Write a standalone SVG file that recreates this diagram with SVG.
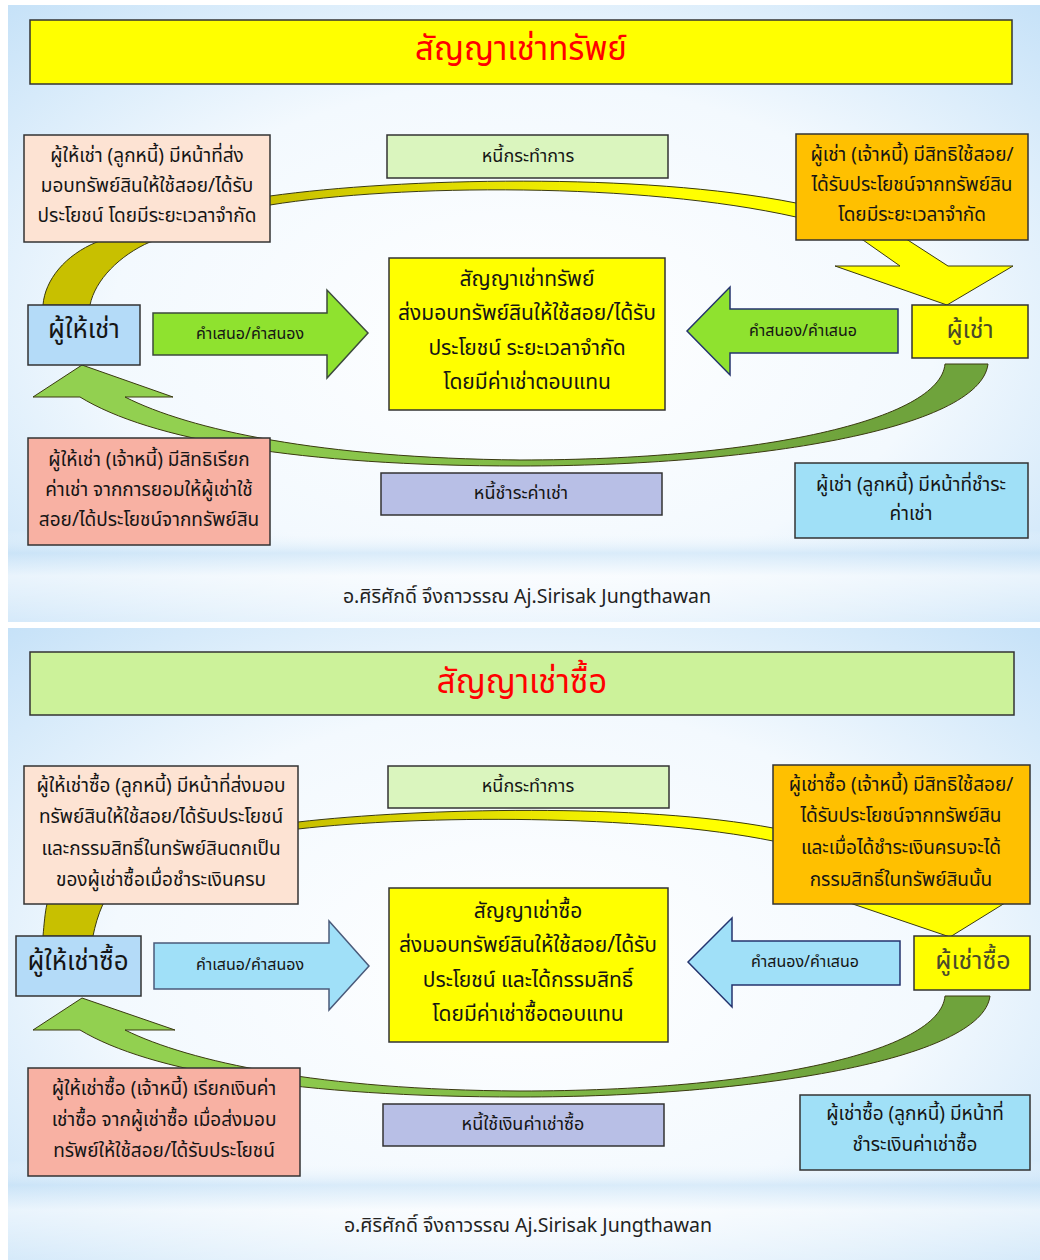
<svg xmlns="http://www.w3.org/2000/svg" width="1040" height="1260" viewBox="0 0 1040 1260">
<defs>
<radialGradient id="bg" cx="0.5" cy="0.5" r="0.8" fx="0.5" fy="0.55">
<stop offset="0" stop-color="#ffffff"/>
<stop offset="0.5" stop-color="#f3f9fe"/>
<stop offset="1" stop-color="#b9dbf6"/>
</radialGradient>
<linearGradient id="band" x1="0" y1="0" x2="0" y2="1">
<stop offset="0" stop-color="#ffffff" stop-opacity="0"/>
<stop offset="0.25" stop-color="#c4e0f6" stop-opacity="0.55"/>
<stop offset="0.5" stop-color="#ffffff" stop-opacity="0.55"/>
<stop offset="1" stop-color="#ffffff" stop-opacity="0.25"/>
</linearGradient>
<linearGradient id="topBand1" gradientUnits="userSpaceOnUse" x1="270" y1="0" x2="680" y2="0">
<stop offset="0" stop-color="#c8c000"/>
<stop offset="1" stop-color="#ffff00"/>
</linearGradient>
<linearGradient id="topBand2" gradientUnits="userSpaceOnUse" x1="298" y1="0" x2="680" y2="0">
<stop offset="0" stop-color="#c8c000"/>
<stop offset="1" stop-color="#ffff00"/>
</linearGradient>
<linearGradient id="green1" gradientUnits="userSpaceOnUse" x1="200" y1="0" x2="850" y2="0">
<stop offset="0" stop-color="#92d050"/>
<stop offset="1" stop-color="#6fa33c"/>
</linearGradient>
<style>
.box{stroke:#333;stroke-width:1.5}
.t{font-family:"Noto Sans Thai","Noto Sans","DejaVu Sans",sans-serif;fill:#151515;text-anchor:middle;dominant-baseline:central}
.s16{font-size:19px}
.s14{font-size:16px}
.lab{font-size:18px}
.s19{font-size:21px}
.s22{font-size:26px}
.title{font-size:33px;fill:#ff0000}
.band{stroke:#3a3a10;stroke-width:1}
.foot{font-size:19.5px;fill:#222}
</style>
</defs>

<g id="background">
<rect x="0" y="0" width="1040" height="1260" fill="#ffffff"/>
<rect x="8" y="5" width="1032" height="617" fill="url(#bg)"/>
<rect x="8" y="530" width="1032" height="92" fill="url(#band)"/>
<rect x="8" y="628" width="1032" height="632" fill="url(#bg)"/>
<rect x="8" y="1160" width="1032" height="100" fill="url(#band)"/>
</g>

<g id="connectors">
<!-- slide 1 top curved arrow -->
<path class="band" fill="url(#topBand1)" d="M43,305 C45,280 65,255 97,242 L150,215 L270,196 C400,178 640,172 796,203 L900,235 L948,266 L1013,266 L947,305 L835,266 L900,266 L863,240 L796,217 C640,182 400,184 270,205 L200,230 L150,242 C120,255 95,280 90,305 Z"/>
<!-- slide 1 bottom curved arrow -->
<path class="band" fill="url(#green1)" d="M988,364 C980,430 750,466 520,466 C300,466 150,440 80,397 L33,397 L82,365 L173,397 L125,397 C190,430 320,458 520,460 C760,460 940,420 945,364 Z"/>
<!-- slide 1 straight arrows -->
<polygon points="153,313 327,313 327,290 368,333 327,378 327,355 153,355" fill="#8fe22f" stroke="#3c4a3c" stroke-width="1.5"/>
<polygon points="687,331 730,287 730,309 898,309 898,353 730,353 730,375" fill="#8fe22f" stroke="#24336e" stroke-width="1.5"/>

<!-- slide 2 top curved arrow -->
<path class="band" fill="url(#topBand2)" d="M43,936 C44,925 45,912 47,904 L100,860 L298,822 C420,808 640,803 773,828 L900,880 L1013,898 L950,937 L835,898 L870,880 L773,841 C640,814 420,815 298,829 L150,880 L103,904 C98,915 95,926 93,936 Z"/>
<!-- slide 2 bottom curved arrow -->
<path class="band" fill="url(#green1)" d="M990,996 C982,1060 750,1097 520,1097 C300,1097 150,1072 80,1030 L33,1030 L82,998 L175,1030 L125,1030 C190,1062 320,1090 520,1091 C760,1091 940,1052 945,996 Z"/>
<!-- slide 2 straight arrows -->
<polygon points="154,943 329,943 329,921 369,966 329,1010 329,989 154,989" fill="#a0e0f8" stroke="#4a5a7a" stroke-width="1.5"/>
<polygon points="688,962 732,918 732,941 900,941 900,985 732,985 732,1007" fill="#a0e0f8" stroke="#24336e" stroke-width="1.5"/>
</g>

<!-- ===== Slide 1 ===== -->
<g id="title1">
<rect class="box" x="30" y="20" width="982" height="64" fill="#ffff00"/>
<text class="t title" x="521" y="50">สัญญาเช่าทรัพย์</text>
</g>
<g id="lessor-duty1">
<rect class="box" x="24" y="135" width="246" height="107" fill="#fde3d3"/>
<text class="t s16" x="147" y="156">ผู้ให้เช่า (ลูกหนี้) มีหน้าที่ส่ง</text>
<text class="t s16" x="147" y="186">มอบทรัพย์สินให้ใช้สอย/ได้รับ</text>
<text class="t s16" x="147" y="216">ประโยชน์ โดยมีระยะเวลาจำกัด</text>
</g>
<g id="obligation-act1">
<rect class="box" x="387" y="135" width="281" height="43" fill="#daf5be"/>
<text class="t lab" x="528" y="156">หนี้กระทำการ</text>
</g>
<g id="lessee-right1">
<rect class="box" x="796" y="134" width="232" height="106" fill="#ffc000"/>
<text class="t s16" x="912" y="155">ผู้เช่า (เจ้าหนี้) มีสิทธิใช้สอย/</text>
<text class="t s16" x="912" y="185">ได้รับประโยชน์จากทรัพย์สิน</text>
<text class="t s16" x="912" y="215">โดยมีระยะเวลาจำกัด</text>
</g>
<g id="contract1">
<rect class="box" x="389" y="258" width="276" height="152" fill="#ffff00"/>
<text class="t s19" x="527" y="279">สัญญาเช่าทรัพย์</text>
<text class="t s19" x="527" y="313">ส่งมอบทรัพย์สินให้ใช้สอย/ได้รับ</text>
<text class="t s19" x="527" y="348">ประโยชน์ ระยะเวลาจำกัด</text>
<text class="t s19" x="527" y="382">โดยมีค่าเช่าตอบแทน</text>
</g>
<g id="lessor1">
<rect class="box" x="28" y="305" width="112" height="60" fill="#b4dbf8"/>
<text class="t s22" x="84" y="330">ผู้ให้เช่า</text>
</g>
<g id="offer1">
<text class="t s14" x="250" y="334">คำเสนอ/คำสนอง</text>
</g>
<g id="accept1">
<text class="t s14" x="803" y="331">คำสนอง/คำเสนอ</text>
</g>
<g id="lessee1">
<rect class="box" x="912" y="305" width="116" height="53" fill="#ffff00"/>
<text class="t" x="970" y="330" style="fill:#4a4a2a;font-size:25px">ผู้เช่า</text>
</g>
<g id="lessor-right1">
<rect class="box" x="28" y="438" width="242" height="107" fill="#f8b1a3"/>
<text class="t s16" x="149" y="460">ผู้ให้เช่า (เจ้าหนี้) มีสิทธิเรียก</text>
<text class="t s16" x="149" y="490">ค่าเช่า จากการยอมให้ผู้เช่าใช้</text>
<text class="t s16" x="149" y="520">สอย/ได้ประโยชน์จากทรัพย์สิน</text>
</g>
<g id="obligation-pay1">
<rect class="box" x="381" y="473" width="281" height="42" fill="#b8bfe6"/>
<text class="t lab" x="521" y="493">หนี้ชำระค่าเช่า</text>
</g>
<g id="lessee-duty1">
<rect class="box" x="795" y="463" width="233" height="75" fill="#a0e0f7"/>
<text class="t s16" x="911" y="485">ผู้เช่า (ลูกหนี้) มีหน้าที่ชำระ</text>
<text class="t s16" x="911" y="514">ค่าเช่า</text>
</g>
<g id="footer1">
<text class="t foot" x="527" y="597">อ.ศิริศักดิ์ จึงถาวรรณ Aj.Sirisak Jungthawan</text>
</g>

<!-- ===== Slide 2 ===== -->
<g id="title2">
<rect class="box" x="30" y="652" width="984" height="63" fill="#ccf29a"/>
<text class="t title" x="522" y="683">สัญญาเช่าซื้อ</text>
</g>
<g id="lessor-duty2">
<rect class="box" x="24" y="766" width="274" height="138" fill="#fde3d3"/>
<text class="t s16" x="161" y="786">ผู้ให้เช่าซื้อ (ลูกหนี้) มีหน้าที่ส่งมอบ</text>
<text class="t s16" x="161" y="817">ทรัพย์สินให้ใช้สอย/ได้รับประโยชน์</text>
<text class="t s16" x="161" y="849">และกรรมสิทธิ์ในทรัพย์สินตกเป็น</text>
<text class="t s16" x="161" y="880">ของผู้เช่าซื้อเมื่อชำระเงินครบ</text>
</g>
<g id="obligation-act2">
<rect class="box" x="388" y="766" width="281" height="42" fill="#daf5be"/>
<text class="t lab" x="528" y="786">หนี้กระทำการ</text>
</g>
<g id="lessee-right2">
<rect class="box" x="773" y="765" width="257" height="139" fill="#ffc000"/>
<text class="t s16" x="901" y="785">ผู้เช่าซื้อ (เจ้าหนี้) มีสิทธิใช้สอย/</text>
<text class="t s16" x="901" y="816">ได้รับประโยชน์จากทรัพย์สิน</text>
<text class="t s16" x="901" y="848">และเมื่อได้ชำระเงินครบจะได้</text>
<text class="t s16" x="901" y="880">กรรมสิทธิ์ในทรัพย์สินนั้น</text>
</g>
<g id="contract2">
<rect class="box" x="389" y="888" width="279" height="154" fill="#ffff00"/>
<text class="t s19" x="528" y="911">สัญญาเช่าซื้อ</text>
<text class="t s19" x="528" y="945">ส่งมอบทรัพย์สินให้ใช้สอย/ได้รับ</text>
<text class="t s19" x="528" y="980">ประโยชน์ และได้กรรมสิทธิ์</text>
<text class="t s19" x="528" y="1014">โดยมีค่าเช่าซื้อตอบแทน</text>
</g>
<g id="lessor2">
<rect class="box" x="16" y="936" width="125" height="60" fill="#b4dbf8"/>
<text class="t s22" x="78" y="962">ผู้ให้เช่าซื้อ</text>
</g>
<g id="offer2">
<text class="t s14" x="250" y="965">คำเสนอ/คำสนอง</text>
</g>
<g id="accept2">
<text class="t s14" x="805" y="962">คำสนอง/คำเสนอ</text>
</g>
<g id="lessee2">
<rect class="box" x="914" y="936" width="116" height="54" fill="#ffff00"/>
<text class="t" x="973" y="961" style="fill:#4a4a2a;font-size:25px">ผู้เช่าซื้อ</text>
</g>
<g id="lessor-right2">
<rect class="box" x="28" y="1068" width="272" height="108" fill="#f8b1a3"/>
<text class="t s16" x="164" y="1089">ผู้ให้เช่าซื้อ (เจ้าหนี้) เรียกเงินค่า</text>
<text class="t s16" x="164" y="1120">เช่าซื้อ จากผู้เช่าซื้อ เมื่อส่งมอบ</text>
<text class="t s16" x="164" y="1151">ทรัพย์ให้ใช้สอย/ได้รับประโยชน์</text>
</g>
<g id="obligation-pay2">
<rect class="box" x="383" y="1104" width="281" height="42" fill="#b8bfe6"/>
<text class="t lab" x="523" y="1124">หนี้ใช้เงินค่าเช่าซื้อ</text>
</g>
<g id="lessee-duty2">
<rect class="box" x="800" y="1095" width="230" height="75" fill="#a0e0f7"/>
<text class="t s16" x="915" y="1114">ผู้เช่าซื้อ (ลูกหนี้) มีหน้าที่</text>
<text class="t s16" x="915" y="1145">ชำระเงินค่าเช่าซื้อ</text>
</g>
<g id="footer2">
<text class="t foot" x="528" y="1226">อ.ศิริศักดิ์ จึงถาวรรณ Aj.Sirisak Jungthawan</text>
</g>
</svg>
